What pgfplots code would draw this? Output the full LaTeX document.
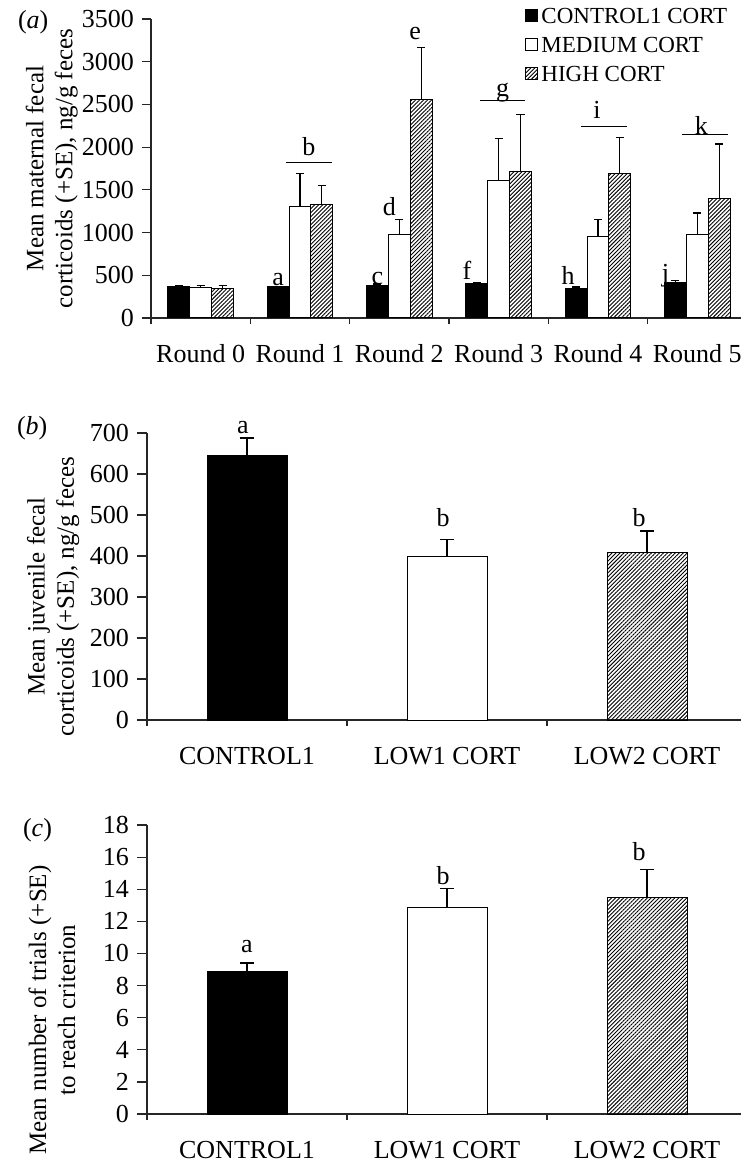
\documentclass[border=0pt]{standalone}
\usepackage{fontspec}
\setmainfont{Liberation Serif}
\usepackage{pgfplots}
\pgfplotsset{compat=1.18}
\usetikzlibrary{patterns.meta}

\pgfplotsset{
  panel/.style={
    scale only axis, clip=false,
    axis lines=left, axis line style={-, line width=0.6pt, black!85},
    tick align=outside, tick pos=left,
    major tick length=4.5pt, minor tick length=2.8pt,
    tick style={line width=0.6pt, black!85},
    major x tick style={draw=none},
    ymin=0,
    ybar, bar shift=0pt,
    /pgf/number format/assume math mode=true,
    /pgf/number format/1000 sep={},
    error bars/y dir=plus, error bars/y explicit,
    error bars/error bar style={line width=0.6pt, black},
    yticklabel style={font=\fontsize{13}{13}\selectfont, xshift=-0.5pt},
    ylabel style={align=center, font=\fontsize{12.5}{14.5}\selectfont},
  },
  blk/.style={fill=black, draw=black, line width=0.5pt},
  wht/.style={fill=white, draw=black, line width=0.5pt},
  hat/.style={draw=black, line width=0.5pt,
    pattern={Lines[angle=45, distance=1.4pt, line width=0.45pt]}},
}
\newcommand{\lt}{\fontsize{13}{13}\selectfont}

\begin{document}
\begin{tikzpicture}

% (a) maternal corticoids by round
\begin{axis}[panel,
  at={(75.5pt,-159pt)}, anchor=south west,
  width=295pt, height=149.5pt,
  xmin=-0.5, xmax=5.44, ymax=3500,
  ytick={0,500,...,3500},
  xtick={0,...,5},
  xticklabels={Round 0,Round 1,Round 2,Round 3,Round 4,Round 5},
  minor xtick={-0.5,0.5,...,4.5},
  xticklabel style={font=\fontsize{13}{13}\selectfont, anchor=base, yshift=-18pt},
  bar width=0.22,
  error bars/error mark options={rotate=90, mark size=2pt, line width=0.6pt},
  ylabel={Mean maternal fecal\\corticoids (+SE), ng/g feces},
  ylabel style={at={(axis description cs:-0.168,0.5)}, anchor=center},
  legend style={at={(axis description cs:0.633,1.045)}, anchor=north west,
    draw=none, fill=none, inner sep=0pt, row sep=5.5pt,
    font=\fontsize{11.5}{11.5}\selectfont, cells={anchor=west},
    nodes={inner sep=0.6pt, text height=8pt, text depth=0pt}},
  legend image code/.code={\draw[#1] (0pt,-3pt) rectangle (6pt,3pt);},
  legend style={/tikz/every odd column/.style={column sep=1.2pt}},
]
\addplot[blk] coordinates {
  (-0.22,363) +- (0,15)
  (0.78,363) +- (0,8)
  (1.78,382) +- (0,15)
  (2.78,406) +- (0,12)
  (3.78,351) +- (0,12)
  (4.78,410) +- (0,30)
};
\addplot[wht] coordinates {
  (0,359) +- (0,19)
  (1,1307) +- (0,383)
  (2,975) +- (0,176)
  (3,1608) +- (0,491)
  (4,955) +- (0,196)
  (5,975) +- (0,254)
};
\addplot[hat] coordinates {
  (0.22,340) +- (0,42)
  (1.22,1331) +- (0,218)
  (2.22,2556) +- (0,612)
  (3.22,1709) +- (0,671)
  (4.22,1689) +- (0,425)
  (5.22,1393) +- (0,644)
};
\legend{CONTROL1 CORT, MEDIUM CORT, HIGH CORT}
\draw[line width=0.6pt] (0.86,1822) -- (1.32,1822);
\draw[line width=0.6pt] (2.81,2548) -- (3.27,2548);
\draw[line width=0.6pt] (3.83,2243) -- (4.29,2243);
\draw[line width=0.6pt] (4.85,2146) -- (5.31,2146);
\node[font=\lt, anchor=base] at (0.78,385) {a};
\node[font=\lt, anchor=base] at (1.09,1900) {b};
\node[font=\lt, anchor=base] at (1.78,395) {c};
\node[font=\lt, anchor=base] at (1.9,1197) {d};
\node[font=\lt, anchor=base] at (2.16,3258) {e};
\node[font=\lt, anchor=base] at (2.68,449) {f};
\node[font=\lt, anchor=base] at (3.04,2595) {g};
\node[font=\lt, anchor=base] at (3.70,390) {h};
\node[font=\lt, anchor=base] at (3.99,2341) {i};
\node[font=\lt, anchor=base] at (4.68,425) {j};
\node[font=\lt, anchor=base] at (5.04,2146) {k};
\end{axis}

% (b) juvenile corticoids
\begin{axis}[panel,
  at={(73.5pt,-360pt)}, anchor=south west,
  width=297pt, height=143.5pt,
  xmin=-0.5, xmax=2.47, ymax=700,
  major tick length=5pt,
  ytick={0,100,...,700},
  xtick={0,1,2},
  xticklabels={CONTROL1,LOW1 CORT,LOW2 CORT},
  minor xtick={-0.5,0.5,1.5},
  xticklabel style={font=\fontsize{13}{13}\selectfont, anchor=base, yshift=-17pt},
  bar width=0.4,
  error bars/error mark options={rotate=90, mark size=3.6pt, line width=0.6pt},
  ylabel={Mean juvenile fecal\\corticoids (+SE), ng/g feces},
  ylabel style={at={(axis description cs:-0.158,0.43)}, anchor=center},
]
\addplot[blk] coordinates {(0,646) +- (0,42)};
\addplot[wht] coordinates {(1,398) +- (0,42)};
\addplot[hat] coordinates {(2,408) +- (0,53)};
\node[font=\lt, anchor=base] at (-0.02,700) {a};
\node[font=\lt, anchor=base] at (0.98,471) {b};
\node[font=\lt, anchor=base] at (1.96,471) {b};
\end{axis}

% (c) trials to criterion
\begin{axis}[panel,
  at={(73.5pt,-557pt)}, anchor=south west,
  width=297pt, height=144.5pt,
  xmin=-0.5, xmax=2.47, ymax=18,
  major tick length=5pt,
  ytick={0,2,...,18},
  xtick={0,1,2},
  xticklabels={CONTROL1,LOW1 CORT,LOW2 CORT},
  minor xtick={-0.5,0.5,1.5},
  xticklabel style={font=\fontsize{13}{13}\selectfont, anchor=base, yshift=-17pt},
  bar width=0.4,
  error bars/error mark options={rotate=90, mark size=3.6pt, line width=0.6pt},
  ylabel={Mean number of trials (+SE)\\to reach criterion},
  ylabel style={at={(axis description cs:-0.16,0.36)}, anchor=center},
]
\addplot[blk] coordinates {(0,8.89) +- (0,0.51)};
\addplot[wht] coordinates {(1,12.85) +- (0,1.18)};
\addplot[hat] coordinates {(2,13.49) +- (0,1.73)};
\node[font=\lt, anchor=base] at (0,10.05) {a};
\node[font=\lt, anchor=base] at (0.98,14.32) {b};
\node[font=\lt, anchor=base] at (1.96,15.82) {b};
\end{axis}

\node[anchor=base west, font=\fontsize{13}{13}\selectfont] at (5.5pt,-14.5pt) {(\textit{a})};
\node[anchor=base west, font=\fontsize{13}{13}\selectfont] at (5pt,-217pt) {(\textit{b})};
\node[anchor=base west, font=\fontsize{13}{13}\selectfont] at (8pt,-418pt) {(\textit{c})};

\pgfresetboundingbox
\useasboundingbox (0,0) rectangle (370.5pt,-582.5pt);
\end{tikzpicture}
\end{document}
